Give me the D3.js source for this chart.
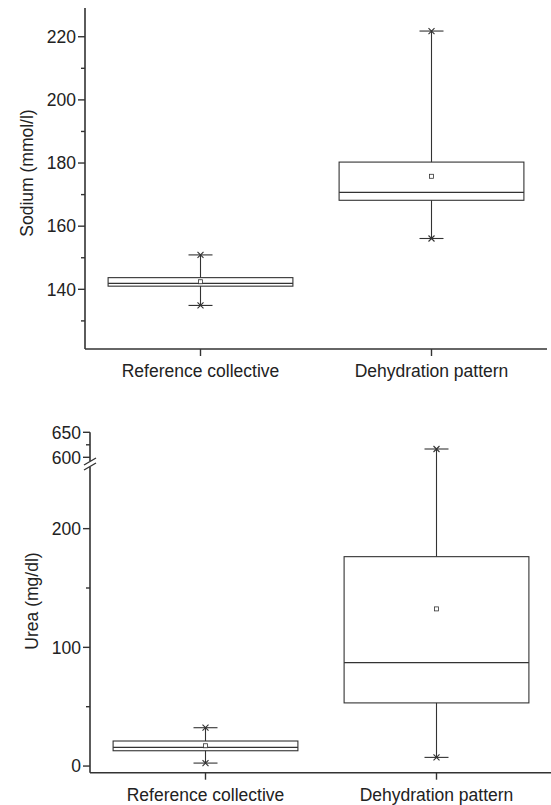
<!DOCTYPE html>
<html>
<head>
<meta charset="utf-8">
<script src="https://cdn.jsdelivr.net/npm/d3@7"></script>
<style>
  body { margin: 0; background: #fff; }
  text { font-family: "Liberation Sans", Arial, sans-serif; fill: #222; }
</style>
</head>
<body>
<div id="chart"></div>
<script>
const categories = ["Reference collective", "Dehydration pattern"];

// sodium (mmol/l): whisker low, q1, median, q3, whisker high, mean
const sodiumMin = [134.9, 156.1];
const sodiumQ1 = [141.0, 168.2];
const sodiumMedian = [141.9, 170.7];
const sodiumQ3 = [143.7, 180.3];
const sodiumMax = [150.9, 221.8];
const sodiumMean = [142.4, 175.8];
const sodiumMajor = [140, 160, 180, 200, 220];
const sodiumMinor = [130, 150, 170, 190, 210];

// urea (mg/dl)
const ureaMin = [2.5, 7.3];
const ureaQ1 = [12.9, 53.2];
const ureaMedian = [15.7, 87.1];
const ureaQ3 = [21.1, 176.4];
const ureaMax = [32.3, 616.6];
const ureaMean = [17.1, 132.4];
const ureaMajorLow = [0, 100, 200];
const ureaMinorLow = [50, 150];
const ureaMajorHigh = [600, 650];
const ureaMinorHigh = [625];

const W = 551, H = 805;
const ink = "#333";

const svg = d3.select("#chart").append("svg")
    .attr("width", W)
    .attr("height", H);

function boxes(g, x, y, d) {
    const bw = 0.8;
    categories.forEach((c, i) => {
        const cx = x(i + 1);
        const x0 = x(i + 1 - bw / 2), x1 = x(i + 1 + bw / 2);
        // whiskers
        g.append("line").attr("x1", cx).attr("x2", cx)
            .attr("y1", y(d.max[i])).attr("y2", y(d.q3[i]));
        g.append("line").attr("x1", cx).attr("x2", cx)
            .attr("y1", y(d.q1[i])).attr("y2", y(d.min[i]));
        [d.min[i], d.max[i]].forEach(v => {
            const yy = y(v);
            g.append("line").attr("x1", cx - 12).attr("x2", cx + 12)
                .attr("y1", yy).attr("y2", yy);
            g.append("path")
                .attr("d", `M${cx - 3},${yy - 3}L${cx + 3},${yy + 3}M${cx - 3},${yy + 3}L${cx + 3},${yy - 3}`);
        });
        g.append("rect")
            .attr("x", x0).attr("width", x1 - x0)
            .attr("y", y(d.q3[i])).attr("height", y(d.q1[i]) - y(d.q3[i]))
            .attr("fill", "none");
        g.append("line").attr("x1", x0).attr("x2", x1)
            .attr("y1", y(d.median[i])).attr("y2", y(d.median[i]));
        g.append("rect")
            .attr("x", cx - 2).attr("y", y(d.mean[i]) - 2)
            .attr("width", 4).attr("height", 4)
            .attr("fill", "#fff").attr("stroke-width", 0.8);
    });
}

function xAxis(g, x, yPos) {
    g.append("line").attr("x1", x.range()[0]).attr("x2", x.range()[1])
        .attr("y1", yPos).attr("y2", yPos).attr("stroke-width", 1.6);
    categories.forEach((c, i) => {
        g.append("line").attr("x1", x(i + 1)).attr("x2", x(i + 1))
            .attr("y1", yPos).attr("y2", yPos + 7).attr("stroke-width", 1.4);
        g.append("text").attr("x", x(i + 1)).attr("y", yPos + 28)
            .attr("text-anchor", "middle")
            .attr("stroke", "none")
            .style("font-size", "17.5px")
            .text(c);
    });
}

function yTicks(g, y, xPos, major, minor) {
    major.forEach(v => {
        g.append("line").attr("x1", xPos - 7).attr("x2", xPos)
            .attr("y1", y(v)).attr("y2", y(v)).attr("stroke-width", 1.4);
        g.append("text").attr("x", xPos - 9).attr("y", y(v))
            .attr("dy", "0.36em")
            .attr("text-anchor", "end")
            .attr("stroke", "none")
            .style("font-size", "17.5px")
            .text(v);
    });
    minor.forEach(v => {
        g.append("line").attr("x1", xPos - 4).attr("x2", xPos)
            .attr("y1", y(v)).attr("y2", y(v)).attr("stroke-width", 1.4);
    });
}

// ---- sodium panel ----
const sodiumG = svg.append("g").attr("stroke", ink).attr("fill", "none").attr("stroke-width", 1.1);
const xTop = d3.scaleLinear().domain([0.5, 2.5]).range([85, 547]);
const yTop = d3.scaleLinear().domain([121.1, 229.1]).range([349, 8]);

boxes(sodiumG, xTop, yTop, {
    min: sodiumMin, q1: sodiumQ1, median: sodiumMedian,
    q3: sodiumQ3, max: sodiumMax, mean: sodiumMean
});
sodiumG.append("line").attr("x1", 85).attr("x2", 85)
    .attr("y1", yTop.range()[0]).attr("y2", yTop.range()[1]).attr("stroke-width", 1.6);
yTicks(sodiumG, yTop, 85, sodiumMajor, sodiumMinor);
xAxis(sodiumG, xTop, 349);
sodiumG.append("text")
    .attr("transform", "translate(33,173) rotate(-90)")
    .attr("text-anchor", "middle")
    .attr("stroke", "none")
    .style("font-size", "17.5px")
    .text("Sodium (mmol/l)");

// ---- urea panel (broken axis) ----
const ureaG = svg.append("g").attr("stroke", ink).attr("fill", "none").attr("stroke-width", 1.1);
const xBot = d3.scaleLinear().domain([0.5, 2.5]).range([90, 552]);
const yLow = d3.scaleLinear().domain([-5.6, 250]).range([772.7, 469.3]);
const yHigh = d3.scaleLinear().domain([584.6, 650]).range([465, 432.3]);
const yBot = v => v > 400 ? yHigh(v) : yLow(v);

boxes(ureaG, xBot, yBot, {
    min: ureaMin, q1: ureaQ1, median: ureaMedian,
    q3: ureaQ3, max: ureaMax, mean: ureaMean
});
ureaG.append("line").attr("x1", 90).attr("x2", 90)
    .attr("y1", yLow.range()[0]).attr("y2", 467).attr("stroke-width", 1.6);
ureaG.append("line").attr("x1", 90).attr("x2", 90)
    .attr("y1", 461).attr("y2", yHigh.range()[1]).attr("stroke-width", 1.6);
// break marks
ureaG.append("path")
    .attr("d", "M84,465L96,458M84,470L96,463")
    .attr("stroke-width", 1.4);
yTicks(ureaG, yLow, 90, ureaMajorLow, ureaMinorLow);
yTicks(ureaG, yHigh, 90, ureaMajorHigh, ureaMinorHigh);
xAxis(ureaG, xBot, 772.7);
ureaG.append("text")
    .attr("transform", "translate(38,601) rotate(-90)")
    .attr("text-anchor", "middle")
    .attr("stroke", "none")
    .style("font-size", "17.5px")
    .text("Urea (mg/dl)");
</script>
</body>
</html>
